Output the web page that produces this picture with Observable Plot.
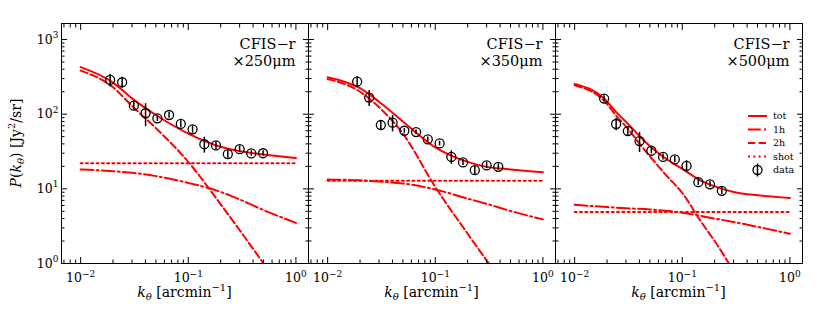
<!DOCTYPE html>
<html>
<head>
<meta charset="utf-8">
<script src="https://cdn.jsdelivr.net/npm/d3@7"></script>
<script src="https://cdn.jsdelivr.net/npm/@observablehq/plot@0.6"></script>
<style>
  body { margin: 0; background: #fff; }
  #chart { width: 822px; height: 316px; }
</style>
</head>
<body>
<div id="chart"></div>
<script>
// ---- panels ----
const panels = ["×250μm", "×350μm", "×500μm"];
const bandName = "CFIS−r";

// ---- model curves ----
const modelK = [0.01, 0.02, 0.03, 0.05, 0.1, 0.2, 0.3, 0.5, 1];
const tot250  = [427, 265, 163, 97.5, 55, 36.6, 32, 28.9, 25.8];
const oneh250 = [18.2, 17.2, 16.4, 14.8, 12, 9.1, 7.2, 5.2, 3.5];
const twoh250 = [384, 229, 129, 65, 23, 6.2, 2.8, 1.0, 0.23];
const tot350  = [313, 223, 147, 80, 36, 23, 19.7, 18.2, 16.7];
const oneh350 = [13.3, 13.0, 12.5, 11.8, 9.8, 7.4, 6.3, 5.05, 3.9];
const twoh350 = [296, 200, 124, 55, 10.6, 2.5, 1.1, 0.4, 0.08];
const oneh500 = [6.1, 5.7, 5.5, 5.3, 4.8, 4.0, 3.6, 3.1, 2.5];
const modelK500 = [0.01, 0.0188, 0.0247, 0.032, 0.041, 0.052, 0.07, 0.1, 0.15, 0.2, 0.3, 0.5, 1];
const tot500  = [255, 162, 104, 72, 49, 35.5, 25.5, 18.5, 12.8, 10.8, 9.1, 8.2, 7.55];
const twoh500 = [244, 151, 93, 61.5, 38.5, 25.5, 15.5, 8.8, 3.6, 2.0, 0.8, 0.28, 0.06];
const shotK = [0.01, 1];
const shotLevel = [22, 12.8, 4.9];

// ---- measured data ----
const dataK   = [0.0188, 0.0243, 0.0312, 0.0401, 0.0516, 0.0663, 0.0852, 0.1096, 0.141, 0.181, 0.233, 0.300, 0.385, 0.495];
const data250 = [288, 268, 130, 103, 88, 97.5, 74, 62.7, 39.6, 38.2, 29.2, 34, 29.8, 30];
const err250  = [55, 45, 16, 35, 8, 9, 8, 7, 9.5, 4.5, 3.5, 3.5, 2.5, 2.5];
const data350 = [273, 167, 71.6, 76.9, 60, 57.6, 46, 40.6, 26.8, 22.6, 17.8, 20.6, 19.7];
const err350  = [45, 40, 10, 19, 4.5, 4, 3.5, 3, 5.5, 2, 2.5, 2, 2];
const data500 = [162, 73.9, 59.4, 43.6, 32.4, 26.8, 24.8, 20.3, 12.3, 11.5, 9.4];
const err500  = [15, 14, 8.5, 13, 3, 2.5, 2.5, 3.5, 1.2, 1, 1];

// ---- ticks ----
const majorX = [0.01, 0.1, 1];
const minorX = [0.007, 0.008, 0.009, 0.02, 0.03, 0.04, 0.05, 0.06, 0.07, 0.08, 0.09,
                0.2, 0.3, 0.4, 0.5, 0.6, 0.7, 0.8, 0.9];
const majorY = [1, 10, 100, 1000];
const minorY = [2, 3, 4, 5, 6, 7, 8, 9, 20, 30, 40, 50, 60, 70, 80, 90,
                200, 300, 400, 500, 600, 700, 800, 900];

// ---- build tables ----
const series = [
  {panel: panels[0], comp: "tot", k: modelK, P: tot250},
  {panel: panels[0], comp: "1h",  k: modelK, P: oneh250},
  {panel: panels[0], comp: "2h",  k: modelK, P: twoh250},
  {panel: panels[1], comp: "tot", k: modelK, P: tot350},
  {panel: panels[1], comp: "1h",  k: modelK, P: oneh350},
  {panel: panels[1], comp: "2h",  k: modelK, P: twoh350},
  {panel: panels[2], comp: "tot", k: modelK500, P: tot500},
  {panel: panels[2], comp: "1h",  k: modelK, P: oneh500},
  {panel: panels[2], comp: "2h",  k: modelK500, P: twoh500}
];
panels.forEach((p, i) => series.push({panel: p, comp: "shot", k: shotK, P: shotK.map(() => shotLevel[i])}));

const modelRows = [];
series.forEach(s => s.k.forEach((k, j) => modelRows.push({panel: s.panel, comp: s.comp, k, P: s.P[j]})));

const dataS = [data250, data350, data500];
const errS = [err250, err350, err500];
const dataRows = [];
panels.forEach((p, i) => {
  dataS[i].forEach((v, j) => dataRows.push({panel: p, k: dataK[j], P: v, e: errS[i][j]}));
});

const styles = {
  "tot": null,
  "1h": "12.8,3.2,2,3.2",
  "2h": "7.4,3.2",
  "shot": "2,3.3"
};

const fmt = d => "10^" + Math.round(Math.log10(d));
const blank = () => "";

const lineMarks = Object.keys(styles).map(c =>
  Plot.line(modelRows.filter(d => d.comp === c), {
    fx: "panel", x: "k", y: "P", z: "panel", stroke: "red", strokeWidth: 2,
    strokeDasharray: styles[c], curve: "monotone-x", clip: true
  })
);

const chart = Plot.plot({
  width: 822,
  height: 316,
  marginLeft: 61,
  marginRight: 20,
  marginTop: 23,
  marginBottom: 53,
  style: {fontFamily: "DejaVu Serif", fontSize: "12px", background: "white", overflow: "visible"},
  fx: {domain: panels, padding: 0, axis: null},
  x: {type: "log", domain: [0.00664, 1.309], label: null},
  y: {type: "log", domain: [1, 1640], label: null},
  marks: [
    ...lineMarks,
    Plot.ruleX(dataRows, {fx: "panel", x: "k", y1: d => d.P - d.e, y2: d => d.P + d.e, stroke: "black", strokeWidth: 1.5}),
    Plot.dot(dataRows, {fx: "panel", x: "k", y: "P", r: 4.5, stroke: "black", strokeWidth: 1.3, fill: "none"}),
    Plot.text(panels, {fx: d => d, text: d => bandName + "\n" + d, frameAnchor: "top-right",
      textAnchor: "end", lineAnchor: "top", lineHeight: 1.17, dx: -13, dy: 13, fontSize: 14.5, fill: "black"}),
    // inward ticks
    Plot.axisX({anchor: "bottom", ticks: majorX, tickSize: -6, tickFormat: blank, label: null, facetAnchor: null}),
    Plot.axisX({anchor: "bottom", ticks: minorX, tickSize: -3.5, tickFormat: blank, label: null, facetAnchor: null}),
    Plot.axisX({anchor: "top", ticks: majorX, tickSize: -6, tickFormat: blank, label: null, facetAnchor: null}),
    Plot.axisX({anchor: "top", ticks: minorX, tickSize: -3.5, tickFormat: blank, label: null, facetAnchor: null}),
    Plot.axisY({anchor: "left", ticks: majorY, tickSize: -6, tickFormat: blank, label: null, facetAnchor: null}),
    Plot.axisY({anchor: "left", ticks: minorY, tickSize: -3.5, tickFormat: blank, label: null, facetAnchor: null}),
    Plot.axisY({anchor: "right", ticks: majorY, tickSize: -6, tickFormat: blank, label: null, facetAnchor: null}),
    Plot.axisY({anchor: "right", ticks: minorY, tickSize: -3.5, tickFormat: blank, label: null, facetAnchor: null}),
    // tick labels
    Plot.axisX({anchor: "bottom", ticks: majorX, tickSize: 0, tickPadding: 10, tickFormat: fmt, label: null, fontSize: 12.5}),
    Plot.axisY({anchor: "left", ticks: majorY, tickSize: 0, tickPadding: 3, tickFormat: fmt, label: null, fontSize: 12.5}),
    Plot.frame({stroke: "black", strokeWidth: 1})
  ]
});

document.getElementById("chart").appendChild(chart);

const svg = d3.select(chart);

// turn "10^n" tick labels into real superscripts
svg.selectAll("text").each(function () {
  const el = d3.select(this);
  if (this.querySelector("tspan")) return;
  const m = /^10\^(-?\d+)$/.exec(this.textContent);
  if (!m) return;
  el.text(null);
  el.append("tspan").text("10");
  el.append("tspan").attr("font-size", 9).attr("dy", -5.5).text(m[1].replace("-", "−"));
});

// ---- axis titles & legend (rich text) ----
const frameLeft = 61, panelW = 247, frameTop = 23, frameBottom = 263;

panels.forEach((p, i) => {
  const t = svg.append("text")
    .attr("x", frameLeft + panelW * i + panelW / 2).attr("y", 297)
    .attr("text-anchor", "middle").attr("font-size", 14).attr("fill", "black")
    .attr("font-family", "DejaVu Serif");
  t.append("tspan").attr("font-style", "italic").text("k");
  t.append("tspan").attr("font-style", "italic").attr("font-size", 10).attr("dy", 3).text("θ");
  t.append("tspan").attr("dy", -3).text(" [arcmin");
  t.append("tspan").attr("font-size", 10).attr("dy", -6).text("−1");
  t.append("tspan").attr("dy", 6).text("]");
});

const yl = svg.append("text")
  .attr("transform", `translate(21,${(frameTop + frameBottom) / 2}) rotate(-90)`)
  .attr("text-anchor", "middle").attr("font-size", 14).attr("fill", "black")
  .attr("font-family", "DejaVu Serif");
yl.append("tspan").attr("font-style", "italic").text("P");
yl.append("tspan").text("(");
yl.append("tspan").attr("font-style", "italic").text("k");
yl.append("tspan").attr("font-style", "italic").attr("font-size", 10).attr("dy", 3).text("θ");
yl.append("tspan").attr("dy", -3).text(") [Jy");
yl.append("tspan").attr("font-size", 10).attr("dy", -6).text("2");
yl.append("tspan").attr("dy", 6).text("/sr]");

// legend inside the third panel
const legRight = frameLeft + panelW * 3;
const lx1 = legRight - 54, lx2 = legRight - 35, tx = legRight - 29;
const legendItems = [
  {label: "tot", dash: styles["tot"]},
  {label: "1h", dash: styles["1h"]},
  {label: "2h", dash: styles["2h"]},
  {label: "shot", dash: styles["shot"]},
  {label: "data", dash: "data"}
];
const rowY = [116, 129.5, 143, 156.5, 170];
const lg = svg.append("g").attr("font-family", "DejaVu Serif").attr("font-size", 9.5)
  .attr("text-anchor", "start");
legendItems.forEach((it, i) => {
  const y = rowY[i];
  if (it.dash === "data") {
    const cx = (lx1 + lx2) / 2;
    lg.append("line").attr("x1", cx).attr("x2", cx).attr("y1", y - 6.5).attr("y2", y + 6.5)
      .attr("stroke", "black").attr("stroke-width", 1.5);
    lg.append("circle").attr("cx", cx).attr("cy", y).attr("r", 4.5)
      .attr("fill", "none").attr("stroke", "black").attr("stroke-width", 1.3);
  } else {
    const ln = lg.append("line").attr("x1", lx1).attr("x2", lx2).attr("y1", y).attr("y2", y)
      .attr("stroke", "red").attr("stroke-width", 2);
    if (it.dash) ln.attr("stroke-dasharray", it.dash);
  }
  lg.append("text").attr("x", tx).attr("y", y).attr("dy", "0.35em")
    .attr("text-anchor", "start").attr("fill", "black").text(it.label);
});
</script>
</body>
</html>
